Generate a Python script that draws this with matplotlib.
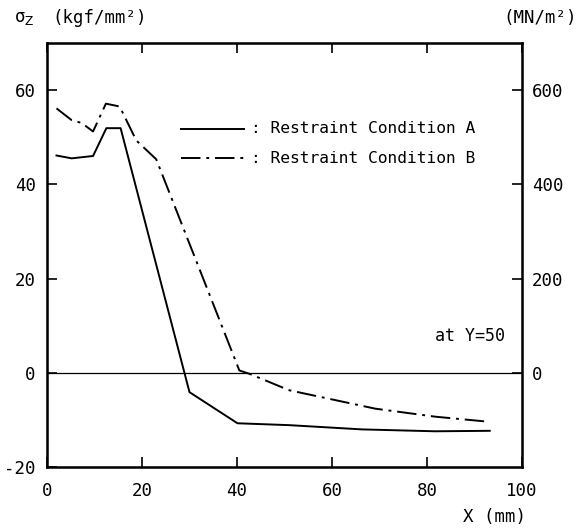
import matplotlib.pyplot as plt

# 数据
x_a = [2.0, 5.2, 9.7, 12.5, 15.5, 30.0, 40.1, 51.0, 66.3, 81.7, 93.2]
y_a = [46.1, 45.5, 46.0, 51.9, 51.9, -4.1, -10.7, -11.1, -12.0, -12.4, -12.3]

x_b = [2.0, 5.2, 7.3, 9.7, 12.4, 15.3, 18.8, 23.0, 40.5, 42.6, 51.0, 69.1, 81.7, 93.2]
y_b = [56.1, 53.6, 53.0, 51.2, 57.1, 56.5, 49.3, 45.3, 0.5, -0.2, -3.7, -7.6, -9.3, -10.4]

x_ticks = [0, 20, 40, 60, 80, 100]
y_ticks = [-20, 0, 20, 40, 60]
y2_ticks = [0, 200, 400, 600]

plt.rcParams['font.family'] = ['DejaVu Sans Mono']
plt.rcParams['axes.unicode_minus'] = False
FS = 12.5     # 刻度和轴标签
FS_LEG = 11.7  # 图例文字

fig = plt.figure(figsize=(5.8, 5.29), dpi=100)
ax = fig.add_axes([0.081, 0.117, 0.819, 0.802])

dashdot = (0, (10, 3, 1.5, 3))
ax.plot(x_a, y_a, color='black', lw=1.4)
ax.plot(x_b, y_b, color='black', lw=1.4, linestyle=dashdot)
ax.axhline(0, color='black', lw=0.9)

ax.set_xlim(0, 100)
ax.set_ylim(-20, 70)
ax.set_xticks(x_ticks)
ax.set_yticks(y_ticks)
ax.tick_params(direction='in', length=7, width=1.2, labelsize=FS,
               top=True, labeltop=False)
ax.tick_params(axis='x', pad=11)
ax.tick_params(axis='y', pad=8)
for s in ax.spines.values():
    s.set_linewidth(1.8)

ax2 = ax.twinx()
ax2.set_ylim(-200, 700)
ax2.set_yticks(y2_ticks)
ax2.tick_params(direction='in', length=7, width=1.2, labelsize=FS, pad=7)

# 图例（手工绘制）
ax.plot([28.3, 41.5], [51.8, 51.8], color='black', lw=1.4)
ax.plot([28.3, 41.5], [45.5, 45.5], color='black', lw=1.4, linestyle=dashdot)
ax.text(43.0, 51.8, ': Restraint Condition A', fontsize=FS_LEG, va='center')
ax.text(43.0, 45.5, ': Restraint Condition B', fontsize=FS_LEG, va='center')

ax.text(96.5, 7.8, 'at Y=50', fontsize=12, va='center', ha='right')

# 轴标签
fig.text(14 / 580, 0.966, r'σ$_{\rm Z}$', fontsize=FS, va='center')
fig.text(52 / 580, 0.966, '(kgf/mm²)', fontsize=FS, va='center')
fig.text(577 / 580, 0.966, '(MN/m²)', fontsize=FS, va='center', ha='right')
fig.text(526 / 580, 1 - 517 / 529, 'X (mm)', fontsize=FS, va='center', ha='right')

fig.savefig('out.png', dpi=100, facecolor='white')
